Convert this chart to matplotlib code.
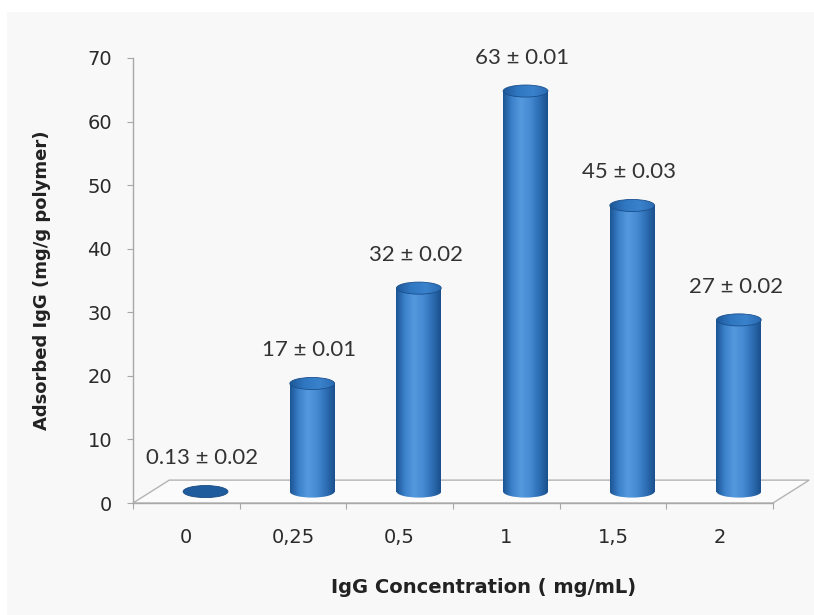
#!/usr/bin/env python3
# -*- coding: utf-8 -*-

import numpy as np
import matplotlib
matplotlib.use('Agg')
import matplotlib.pyplot as plt
from matplotlib.patches import Ellipse, Polygon, Rectangle
from matplotlib.colors import LinearSegmentedColormap

# data
concentrations = ['0', '0,25', '0,5', '1', '1,5', '2']
adsorbed = [0.13, 17, 32, 63, 45, 27]
errors = ['0.02', '0.01', '0.02', '0.01', '0.03', '0.02']
value_text = ['0.13', '17', '32', '63', '45', '27']

# look of the fake 3d
depth_dx, depth_dy = 0.34, 3.6      # floor depth (categories, data units)
bar_dx, bar_base = 0.18, 1.8        # cylinder offset inside the floor
bar_w, ell_h = 0.42, 1.9            # cylinder width, ellipse height

body_cmap = LinearSegmentedColormap.from_list(
    'body', ['#1b5493', '#3c82cb', '#559ade', '#468bd3', '#2e6fb5', '#1a4f8c'])
top_cmap = LinearSegmentedColormap.from_list(
    'top', ['#1e5797', '#3077c2', '#3a82cc', '#2a6bb2'])
grad = np.linspace(0, 1, 256).reshape(1, -1)

fig = plt.figure(figsize=(8.14, 6.15), dpi=100)
fig.patch.set_facecolor('#ffffff')
# light panel behind the chart
fig.patches.append(Rectangle((0.009, 0), 0.991, 0.98, transform=fig.transFigure,
                             facecolor='#f8f8f8', edgecolor='none', zorder=-10))
ax = fig.add_axes([0.1634, 0.1821, 0.7862, 0.7236])
ax.set_facecolor('none')

x = np.arange(len(concentrations))
n = len(concentrations)
ax.set_xlim(-0.5, n - 0.5)
ax.set_ylim(0, 70)

# floor
floor = Polygon([(-0.5, 0), (n - 0.5, 0), (n - 0.5 + depth_dx, depth_dy),
                 (-0.5 + depth_dx, depth_dy)], closed=True, facecolor='#fbfbfb',
                edgecolor='#b4b4b4', lw=1.0, clip_on=False, zorder=1)
ax.add_patch(floor)

# cylinders
for xi, val in zip(x, adsorbed):
    cx = xi + bar_dx
    x0, x1 = cx - bar_w / 2, cx + bar_w / 2
    top = bar_base + val
    if val < 1:
        e = Ellipse((cx, bar_base), bar_w, ell_h, facecolor='#1f5c9e',
                    edgecolor='#184a80', lw=0.6, zorder=3)
        ax.add_patch(e)
        continue
    # body with gradient
    body = Rectangle((x0, bar_base), bar_w, val, facecolor='none', edgecolor='none')
    ax.add_patch(body)
    im = ax.imshow(grad, cmap=body_cmap, extent=(x0, x1, bar_base - ell_h, top),
                   aspect='auto', zorder=3, interpolation='bicubic')
    im.set_clip_path(body)
    bottom = Ellipse((cx, bar_base), bar_w, ell_h, facecolor='none', edgecolor='none')
    ax.add_patch(bottom)
    im2 = ax.imshow(grad, cmap=body_cmap, extent=(x0, x1, bar_base - ell_h, top),
                    aspect='auto', zorder=3, interpolation='bicubic')
    im2.set_clip_path(bottom)
    # top cap
    cap = Ellipse((cx, top), bar_w, ell_h, facecolor='none', edgecolor='#1a4f8c',
                  lw=0.6, zorder=5)
    ax.add_patch(cap)
    im3 = ax.imshow(grad, cmap=top_cmap, extent=(x0, x1, top - ell_h, top + ell_h),
                    aspect='auto', zorder=4, interpolation='bicubic')
    im3.set_clip_path(cap)

# value labels
for xi, val, vt, er in zip(x, adsorbed, value_text, errors):
    ax.text(xi + 0.15, val + 7, f'{vt} ± {er}', ha='center', va='center',
            fontsize=16, family=['Lato', 'DejaVu Sans'], color='#333333', zorder=6)

# axes styling
for s in ['top', 'right']:
    ax.spines[s].set_visible(False)
for s in ['left', 'bottom']:
    ax.spines[s].set_color('#a8a8a8')
    ax.spines[s].set_linewidth(1.0)
ax.set_yticks(np.arange(0, 71, 10))
ax.set_xticks(np.arange(-0.5, n, 1.0))
ax.set_xticklabels([])
ax.set_xticks(x, minor=True)
ax.set_xticklabels(concentrations, minor=True)
ax.tick_params(axis='x', which='minor', length=0, pad=18)
ax.tick_params(axis='x', which='major', length=4, color='#a8a8a8', direction='out')
ax.tick_params(axis='y', length=4, color='#a8a8a8', pad=11)
for lab in ax.get_yticklabels() + ax.get_xticklabels(minor=True):
    lab.set_fontfamily('DejaVu Sans')
    lab.set_fontsize(14)
    lab.set_color('#2a2a2a')

ax.set_ylabel('Adsorbed IgG (mg/g polymer)', fontsize=13, fontweight='bold',
              family='DejaVu Sans', color='#222222', labelpad=26)
ax.set_xlabel('IgG Concentration ( mg/mL)', fontsize=14, fontweight='bold',
              family='DejaVu Sans', color='#222222', labelpad=22)
# the x title sits a bit right of the axis centre in the original
ax.xaxis.label.set_x(0.548)

plt.savefig('out.png', dpi=100)
